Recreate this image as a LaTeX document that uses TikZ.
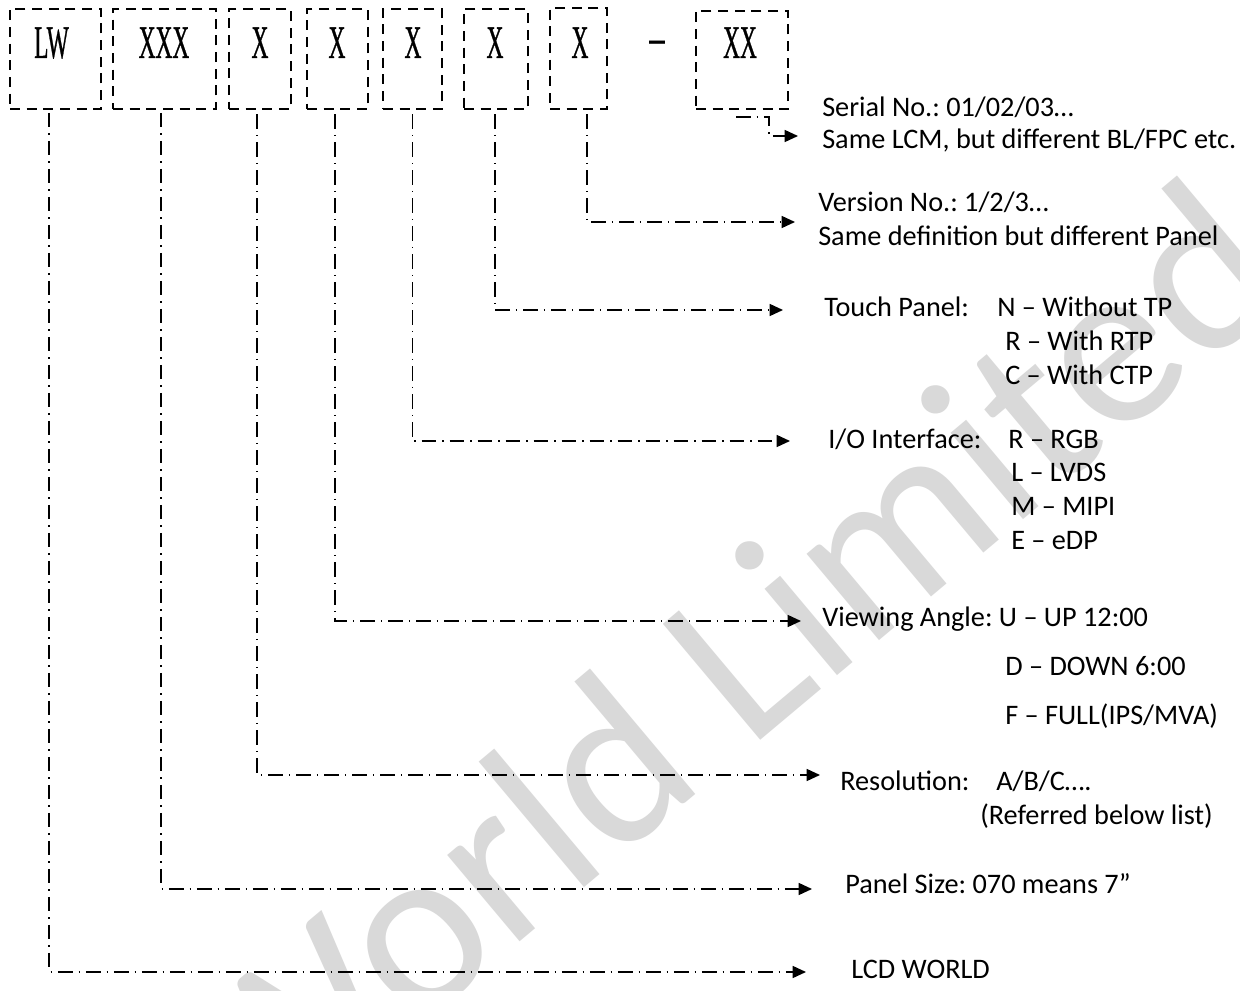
\documentclass[tikz,border=0pt]{standalone}
\usepackage{graphicx}
\usepackage{fontspec}
\setmainfont{Carlito}
\newfontfamily\boxfont[FakeBold=1]{Liberation Serif}
\usetikzlibrary{arrows.meta}
\definecolor{wm}{RGB}{217,217,217}
\tikzset{
  bx/.style={draw, line width=1.6pt, dash pattern=on 7.5pt off 5pt, inner sep=0pt, anchor=north west},
  bt/.style={font=\boxfont\fontsize{35pt}{35pt}\selectfont, inner sep=0pt, anchor=base},
  conn/.style={line width=1.1pt, dash pattern=on 11pt off 4.5pt on 1pt off 4.5pt, -{Triangle[length=10pt,width=9pt]}},
  lbl/.style={font=\fontsize{21.2pt}{25pt}\selectfont, inner sep=0pt, anchor=base west},
}
\newcommand{\cx}[1]{\scalebox{0.5}[1]{#1}}
\frenchspacing
\begin{document}
\begin{tikzpicture}[x=0.75pt,y=-0.75pt]
\useasboundingbox (0,0) rectangle (1240,991);
\clip (0,0) rectangle (1240,991);
\fill[white] (0,0) rectangle (1240,991);
% watermark
\node[rotate=40, anchor=base east, font=\fontsize{177pt}{177pt}\selectfont, text=wm, inner sep=0pt] (wmark) at (1296,291) {World Limited};
% code boxes
\node[bx, minimum width={91*0.75pt}, minimum height={100*0.75pt}] (lw) at (9,8) {};
\node[bx, minimum width={103*0.75pt}, minimum height={100*0.75pt}] (xxx) at (112,8) {};
\node[bx, minimum width={62*0.75pt}, minimum height={100*0.75pt}] (xa) at (228,8) {};
\node[bx, minimum width={61*0.75pt}, minimum height={100*0.75pt}] (xb) at (306,8) {};
\node[bx, minimum width={59*0.75pt}, minimum height={100*0.75pt}] (xc) at (382,8) {};
\node[bx, minimum width={64*0.75pt}, minimum height={100*0.75pt}] (xd) at (463,8) {};
\node[bx, minimum width={57*0.75pt}, minimum height={101*0.75pt}] (xe) at (549,7) {};
\node[bx, minimum width={92*0.75pt}, minimum height={98*0.75pt}] (xx) at (695,10) {};
\node[bt] (tlw) at (51.5,58) {\cx{LW}};
\node[bt] (txxx) at (164,58) {\cx{XXX}};
\node[bt] (txa) at (260,58) {\cx{X}};
\node[bt] (txb) at (337,58) {\cx{X}};
\node[bt] (txc) at (413,58) {\cx{X}};
\node[bt] (txd) at (495,58) {\cx{X}};
\node[bt] (txe) at (580,58) {\cx{X}};
\node[bt] (tdash) at (657,53) {\scalebox{0.65}[1]{–}};
\node[bt] (txx) at (740,58) {\cx{XX}};
% arrow tips
\coordinate (tS) at (798,136);
\coordinate (tVer) at (795,222);
\coordinate (tT) at (783,310);
\coordinate (tI) at (790,441);
\coordinate (tV) at (801,621);
\coordinate (tR) at (820,775);
\coordinate (tP) at (812,889);
\coordinate (tL) at (806,972);
% connectors
\draw[conn] ([xshift=-4.5pt,yshift=-5pt]xx.south) -- ++(33,0) |- (tS);
\draw[conn] ([xshift=6.4pt,yshift=-3pt]xe.south) |- (tVer);
\draw[conn] ([xshift=-0.75pt,yshift=-3pt]xd.south) |- (tT);
\draw[conn] ([yshift=-3pt]xc.south) |- (tI);
\draw[conn] ([xshift=-1.9pt,yshift=-3pt]xb.south) |- (tV);
\draw[conn] ([xshift=-2.25pt,yshift=-3pt]xa.south) |- (tR);
\draw[conn] ([xshift=-2.6pt,yshift=-2pt]xxx.south) |- (tP);
\draw[conn] ([xshift=-4.875pt,yshift=-2pt]lw.south) |- (tL);
% labels
\node[lbl] (l1) at (822,117) {Serial No.: 01/02/03…};
\node[lbl] (l2) at (822,149) {Same LCM, but different BL/FPC etc.};
\node[lbl] (l3) at (818,212) {Version No.: 1/2/3…};
\node[lbl] (l4) at (818,246) {Same definition but different Panel};
\node[lbl] (l5) at (824,317) {Touch Panel:};
\node[lbl] (l5a) at (997,317) {N – Without TP};
\node[lbl] (l5b) at (1005,351) {R – With RTP};
\node[lbl] (l5c) at (1005,385) {C – With CTP};
\node[lbl] (l6) at (828,449) {I/O Interface:};
\node[lbl] (l6a) at (1008,449) {R – RGB};
\node[lbl] (l6b) at (1011,482) {L – LVDS};
\node[lbl] (l6c) at (1011,516) {M – MIPI};
\node[lbl] (l6d) at (1011,549) {E – eDP};
\node[lbl] (l7) at (822,626) {Viewing Angle: U – UP 12:00};
\node[lbl] (l7b) at (1005,675) {D – DOWN 6:00};
\node[lbl] (l7c) at (1005,724) {F – FULL(IPS/MVA)};
\node[lbl] (l8) at (840,790) {Resolution:};
\node[lbl] (l8a) at (996,790) {A/B/C….};
\node[lbl] (l8b) at (980,824) {(Referred below list)};
\node[lbl] (l9) at (845,893) {Panel Size: 070 means 7”};
\node[lbl] (l10) at (851,978) {LCD WORLD};
\end{tikzpicture}
\end{document}
